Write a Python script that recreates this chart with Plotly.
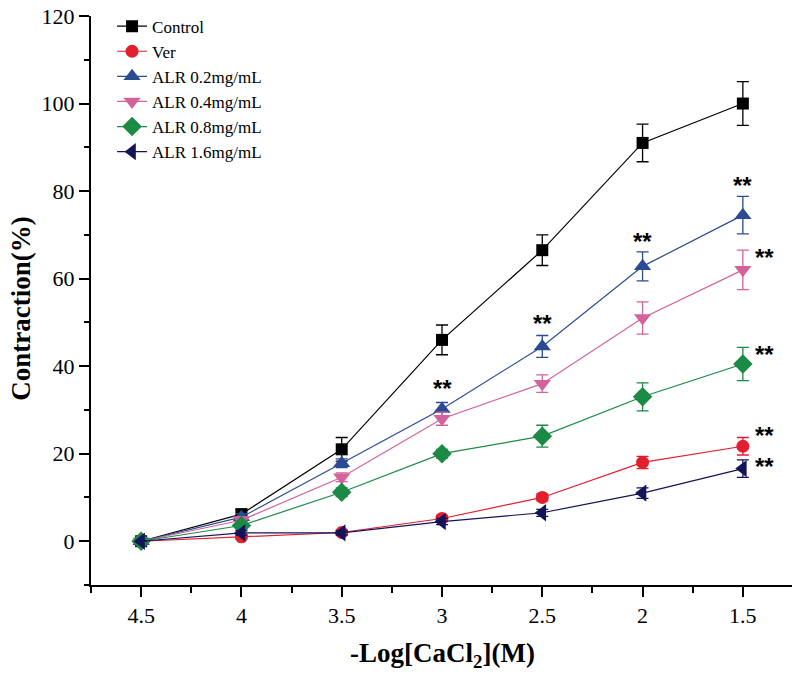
import plotly.graph_objects as go

x_vals = [4.5, 4, 3.5, 3, 2.5, 2, 1.5]

control = [0, 6.2, 21, 46, 66.5, 91, 100]
control_err = [0, 1, 2.7, 3.4, 3.5, 4.3, 5]
ver = [0, 1, 2, 5.2, 10, 18, 21.7]
ver_err = [0, 0.5, 0.5, 0.7, 0.8, 1.4, 2]
alr02 = [0, 5.5, 17.8, 30.2, 44.5, 62.8, 74.5]
alr02_err = [0, 0.8, 1, 1.5, 2.5, 3.3, 4.3]
alr04 = [0, 4.8, 14.6, 28, 36, 51, 62]
alr04_err = [0, 0.8, 1, 1.5, 2, 3.7, 4.5]
alr08 = [0, 3.6, 11.2, 20, 24, 33, 40.5]
alr08_err = [0, 0.8, 1, 1, 2.5, 3.2, 3.8]
alr16 = [0, 1.9, 1.9, 4.5, 6.5, 11, 16.6]
alr16_err = [0, 0.5, 0.5, 0.7, 0.8, 1.2, 2]

names = ["Control", "Ver", "ALR 0.2mg/mL", "ALR 0.4mg/mL", "ALR 0.8mg/mL", "ALR 1.6mg/mL"]

x_ticks = [4.5, 4, 3.5, 3, 2.5, 2, 1.5]
x_ticklabels = ["4.5", "4", "3.5", "3", "2.5", "2", "1.5"]
y_ticks = [0, 20, 40, 60, 80, 100, 120]
y_ticklabels = ["0", "20", "40", "60", "80", "100", "120"]

# significance marks: (x, y, xshift)
sig_x = [3, 2.5, 2, 1.5, 1.5, 1.5, 1.5, 1.5]
sig_y = [35.9, 50.7, 69.5, 82.3, 65.7, 43.6, 25.0, 18.0]
sig_shift = [0, 0, 0, 0, 22, 22, 22, 22]

series = [
    (control, control_err, "#000000", "square", 12),
    (ver, ver_err, "#e31e2d", "circle", 13),
    (alr02, alr02_err, "#2a4b93", "triangle-up", 15),
    (alr04, alr04_err, "#d2639b", "triangle-down", 15),
    (alr08, alr08_err, "#1a8a45", "diamond", 15),
    (alr16, alr16_err, "#13135a", "triangle-left", 15),
]

fig = go.Figure()
for name, (vals, errs, color, sym, size) in zip(names, series):
    fig.add_trace(go.Scatter(
        x=x_vals, y=vals, name=name, mode="lines+markers",
        line=dict(color=color, width=1.2),
        marker=dict(symbol=sym, size=size, color=color),
        error_y=dict(type="data", array=errs, visible=True, color=color,
                     thickness=1.3, width=6),
        cliponaxis=False,
    ))

for sx, sy, sh in zip(sig_x, sig_y, sig_shift):
    fig.add_annotation(x=sx, y=sy, text="<b>**</b>", showarrow=False, xshift=sh, yshift=-4,
                       font=dict(family="Liberation Sans", size=24, color="black"))

font_family = "Liberation Serif"

# axis titles
fig.add_annotation(xref="paper", yref="paper", x=0.5, y=-0.123, xanchor="center", yanchor="middle",
                   text="<b>-Log[CaCl<sub>2</sub>](M)</b>", showarrow=False,
                   font=dict(family=font_family, size=27, color="black"))
fig.add_annotation(xref="paper", yref="paper", x=-0.1, y=0.485, xanchor="center", yanchor="middle",
                   text="<b>Contraction(%)</b>", showarrow=False, textangle=-90,
                   font=dict(family=font_family, size=27, color="black"))

fig.update_layout(
    width=800, height=678,
    margin=dict(l=83, r=15, t=8, b=101, autoexpand=False),
    paper_bgcolor="white", plot_bgcolor="white",
    font=dict(family=font_family, color="black"),
    showlegend=True,
    legend=dict(x=0.03, y=1.013, xanchor="left", yanchor="top",
                font=dict(family=font_family, size=17, color="black"),
                bgcolor="rgba(0,0,0,0)", tracegroupgap=0),
    xaxis=dict(
        range=[4.75, 1.25], tickvals=x_ticks, ticktext=x_ticklabels, automargin=False,
        ticklabeloverflow="allow",
        showline=True, linecolor="black", linewidth=2, mirror=False,
        ticks="outside", ticklen=10, tickwidth=2, tickcolor="black",
        minor=dict(dtick=0.25, tick0=1.25, ticks="outside", ticklen=6, tickwidth=2, tickcolor="black"),
        showgrid=False, zeroline=False,
        tickfont=dict(family=font_family, size=22, color="black"),
    ),
    yaxis=dict(
        range=[-10, 120], tickvals=y_ticks, ticktext=y_ticklabels, automargin=False,
        ticklabeloverflow="allow",
        showline=True, linecolor="black", linewidth=2, mirror=False,
        ticks="outside", ticklen=10, tickwidth=2, tickcolor="black",
        minor=dict(dtick=10, tick0=0, ticks="outside", ticklen=5, tickwidth=2, tickcolor="black"),
        showgrid=False, zeroline=False,
        tickfont=dict(family=font_family, size=22, color="black"),
    ),
)

fig.write_html("out.html")
